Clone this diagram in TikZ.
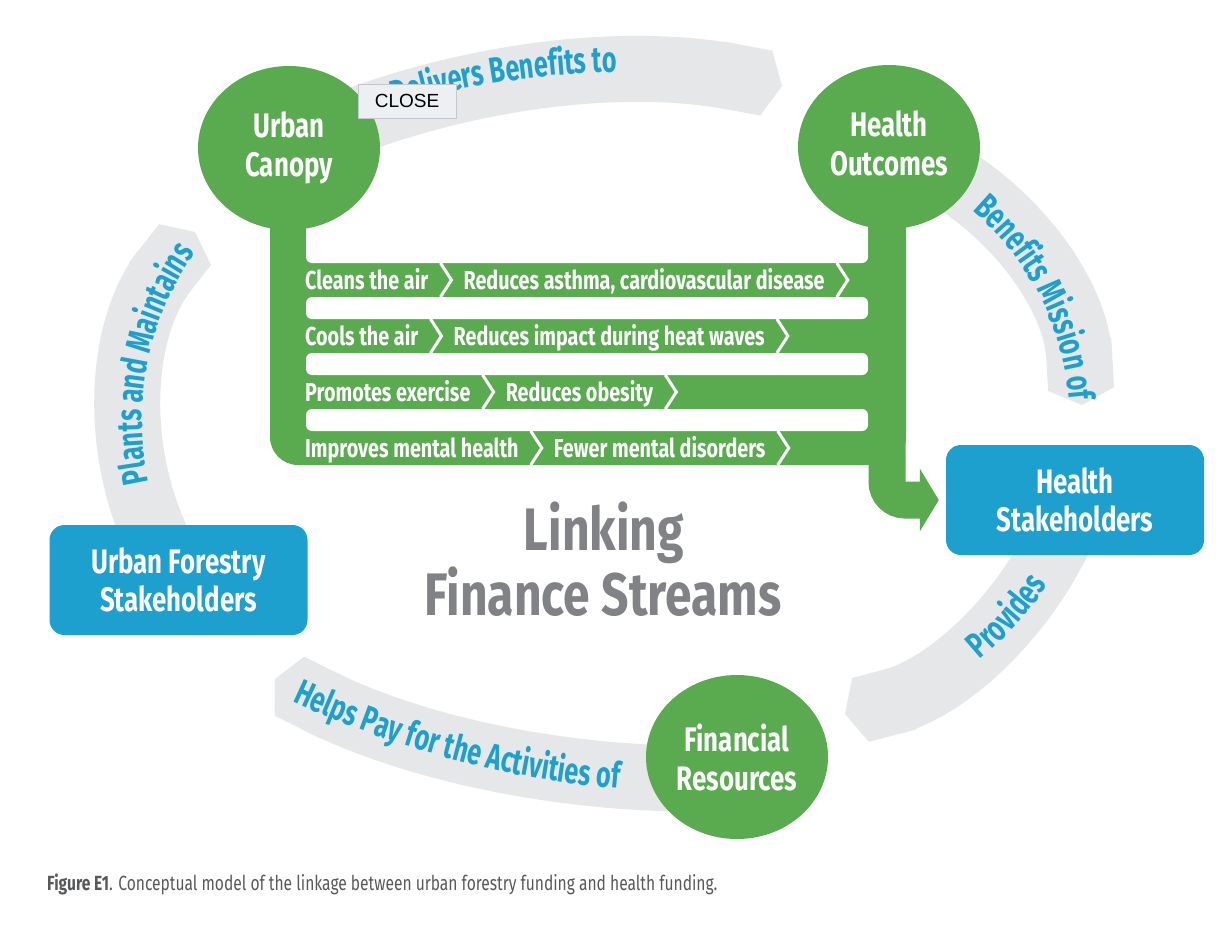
\documentclass[tikz,border=0pt]{standalone}
\usepackage{fontspec}
\usepackage{tikz}
\usetikzlibrary{shapes.geometric, arrows.meta, positioning, calc}
\usetikzlibrary{decorations.text}
\setmainfont{Fira Sans}[FakeStretch=0.76]
\newfontfamily\bandfamily{Fira Sans}[FakeStretch=0.7]
\newfontfamily\headfamily{Fira Sans}[FakeStretch=0.8]
\newfontfamily\btnfont{Liberation Sans}
\definecolor{leaf}{RGB}{90,170,80}
\definecolor{sky}{RGB}{29,160,205}
\definecolor{mist}{RGB}{230,231,232}
\definecolor{slate}{RGB}{128,130,133}
\definecolor{ink}{RGB}{88,89,91}
\definecolor{btnface}{RGB}{237,240,242}
\definecolor{btnedge}{RGB}{195,198,202}
\newcommand{\bandfont}{\bandfamily\bfseries\fontsize{36}{40}\selectfont\color{sky}}
\newcommand{\chevron}[1]{\draw[chev] ([xshift=10pt, yshift=17pt]#1.east) -- ([xshift=21pt]#1.east) -- ([xshift=10pt, yshift=-17pt]#1.east);}
\pgfdeclarelayer{background}
\pgfsetlayers{background,main}

\begin{document}
\begin{tikzpicture}[
            x=1pt, y=1pt,
            hub/.style={ellipse, fill=leaf, minimum width=182, minimum height=164, inner sep=0pt, text=white, align=center, font=\bfseries\fontsize{34}{39}\selectfont},
            stakebox/.style={rectangle, rounded corners=15, fill=sky, minimum width=258, minimum height=110, text=white, align=center, font=\bfseries\fontsize{34}{38}\selectfont},
            effect/.style={text=white, inner sep=2pt, text height=18pt, text depth=0pt, font=\bfseries\fontsize{26}{30}\selectfont},
            chev/.style={draw=white, line width=3pt},
            band/.style={draw=mist, line width=66pt, -{Triangle Cap[length=16pt]}},
            bandtext/.style={decorate, decoration={text along path, text align=center, text={|\bandfont|#1}}},
            feed/.style={draw=leaf, line width=37pt, rounded corners=18, -{Triangle[length=19pt, width=62pt]}, shorten >=7pt},
            heading/.style={text=slate, inner sep=0pt, font=\headfamily\bfseries\fontsize{60}{66}\selectfont},
            caption/.style={text=ink, inner sep=0pt, font=\fontsize{20.5}{24}\selectfont},
            closebtn/.style={rectangle, fill=btnface, draw=btnedge, minimum width=98, minimum height=34, inner sep=0pt, font=\btnfont\fontsize{19}{22}\selectfont},
        ]
            \useasboundingbox (0,0) rectangle (1228,-924);

            % Nodes
            \node[hub] (canopy) at (289,-148) {Urban\\Canopy};
            \node[hub] (outcomes) at (889,-147) {Health\\Outcomes\vphantom{y}};
            \node[hub] (finres) at (737,-757) {Financial\\Resources};
            \node[stakebox] (hstake) at (1075,-500) {Health\\Stakeholders};
            \node[stakebox] (ufstake) at (178.5,-580) {Urban Forestry\\Stakeholders};

            % Arrow heads and arc centres
            \coordinate (tipA) at (782,-86);
            \coordinate (tipB) at (1082,-405);
            \coordinate (tipC) at (845,-714);
            \coordinate (tipD) at (275,-679);
            \coordinate (tipE) at (195,-232);
            \coordinate (arcA) at (628,-888);
            \coordinate (arcB) at (792,-422);
            \coordinate (arcC) at (760,-394);
            \coordinate (arcD) at (701,170);
            \coordinate (arcE) at (430,-420);

            % Effects
            \node[effect, anchor=west] (clean) at (303,-280) {Cleans the air};
            \node[effect, right=31pt of clean] (asthma) {Reduces asthma, cardiovascular disease};
            \node[effect, anchor=west] (cool) at (303,-336) {Cools the air};
            \node[effect, right=31pt of cool] (heat) {Reduces impact during heat waves};
            \node[effect, anchor=west] (exercise) at (303,-392) {Promotes exercise};
            \node[effect, right=31pt of exercise] (obesity) {Reduces obesity};
            \node[effect, anchor=west] (mental) at (303,-448) {Improves mental health};
            \node[effect, right=31pt of mental] (disorders) {Fewer mental disorders};
            \chevron{clean} \chevron{asthma}
            \chevron{cool} \chevron{heat}
            \chevron{exercise} \chevron{obesity}
            \chevron{mental} \chevron{disorders}

            \begin{pgfonlayer}{background}
                \fill[white] (0,0) rectangle (1228,-924);
                % Flows
                \draw[band] (canopy.center) to[bend left=17.7, looseness=0.87] (tipA);
                \draw[band] (outcomes.center) to[bend left=33.5, looseness=0.93] (tipB);
                \draw[band] (hstake.center) to[bend left=28.2, looseness=0.9] (tipC);
                \draw[band] ([yshift=-21pt]finres.center) to[bend left=14.4, looseness=0.865] (tipD);
                \draw[band] (ufstake.center) to[bend left=35.5, looseness=0.94] (tipE);
                % Canopy comb
                \fill[leaf, rounded corners=28] (270,-200) rectangle (906,-465);
                \foreach \ya/\yb in {190/263, 297/319, 353/375, 409/431}
                    \fill[white, rounded corners=6] (306,-\ya) rectangle (868,-\yb);
                \draw[feed] ([xshift=-2pt]outcomes.center) |- (hstake.west);
            \end{pgfonlayer}

            % Flow labels
            \path[bandtext={Delivers Benefits to}] (arcA) ++(120:816) arc[start angle=120, end angle=77.4, radius=816];
            \path[bandtext={Benefits Mission of}] (arcB) ++(62:278) arc[start angle=62, end angle=-8, radius=278];
            \path[bandtext={Provides}] (arcC) ++(-72:345) arc[start angle=-72, end angle=-12, radius=345];
            \path[bandtext={Helps Pay for the Activities of}] (arcD) ++(-125:962) arc[start angle=-125, end angle=-85, radius=962];
            \path[bandtext={Plants and Maintains}] (arcE) ++(199:288) arc[start angle=199, end angle=138, radius=288];

            % Title and caption
            \node[heading, anchor=base] (linking) at (604,-550) {Linking};
            \node[heading, anchor=base] (streams) at (603,-615) {Finance Streams};
            \node[caption, anchor=base west] (figcap) at (47,-890) {\textbf{Figure E1}. Conceptual model of the linkage between urban forestry funding and health funding.};

            \node[closebtn] (close) at (407,-101) {CLOSE};
        \end{tikzpicture}
\end{document}
